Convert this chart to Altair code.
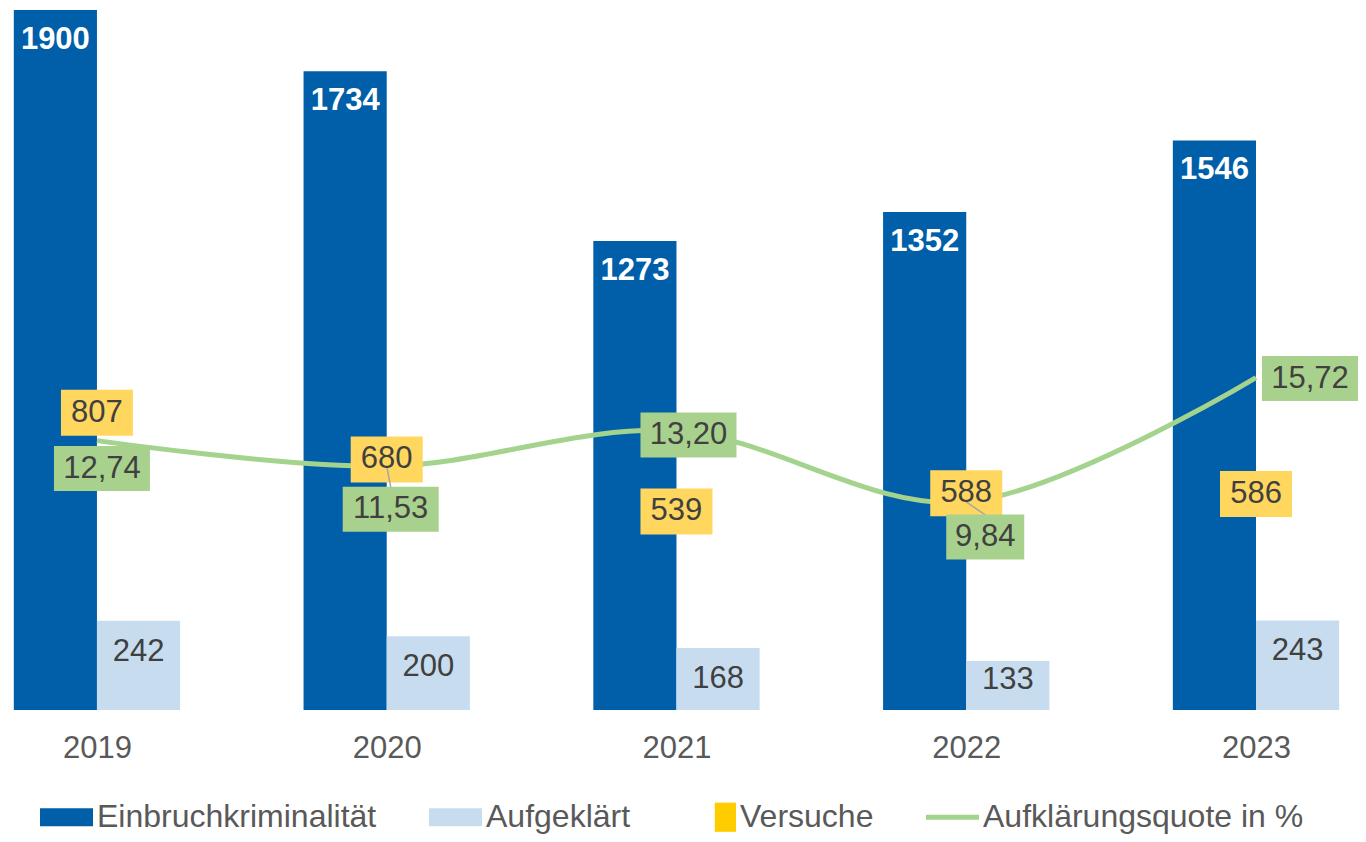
import altair as alt
import pandas as pd

# ---- data ----
years = [2019, 2020, 2021, 2022, 2023]
einbruch = [1900, 1734, 1273, 1352, 1546]
aufgeklaert = [242, 200, 168, 133, 243]
versuche = [807, 680, 539, 588, 586]
quote = [12.74, 11.53, 13.20, 9.84, 15.72]
quote_text = ["12,74", "11,53", "13,20", "9,84", "15,72"]
series = ["Einbruchkriminalität", "Aufgeklärt", "Versuche", "Aufklärungsquote in %"]

# ---- styling ----
FONT = "Liberation Sans"
FS = 31
LFS = 32
DARK = "#005FA8"
LIGHT = "#C7DDEF"
YELLOW_BOX = "#FFD75E"
GREEN_BOX = "#A9D18E"
GREEN_LINE = "#A3D38D"
TXT = "#404040"
W, H = 1350, 702
XDOM = [2018.693, 2023.352]
Y1MAX = 1905.4
Y2MAX = 33.2
BW = 0.287  # bar width in years
PX_PER_YEAR = W / (XDOM[1] - XDOM[0])
PX_PER_Q = H / Y2MAX

# pixel offsets for the manually placed quote labels (dx, dy)
quote_offsets = [(5, 28), (4, 43), (12, 4), (19, 35), (54, 1)]
leader = [False, True, False, True, False]

df = pd.DataFrame({
    "year": years,
    "einbruch": einbruch,
    "aufgeklaert": aufgeklaert,
    "versuche": versuche,
    "quote": quote,
    "qtext": quote_text,
})

xscale = alt.Scale(domain=XDOM, nice=False, zero=False)
yscale = alt.Scale(domain=[0, Y1MAX], nice=False, zero=True)
y2scale = alt.Scale(domain=[0, Y2MAX], nice=False, zero=True)
xaxis = alt.Axis(values=years, format="d", domain=False, ticks=False, grid=False,
                 labelFont=FONT, labelFontSize=FS, labelColor="#595959",
                 labelPadding=23, title=None)


def X(field):
    return alt.X(field, type="quantitative", scale=xscale, axis=xaxis, title=None)


def Y(field, sc=yscale):
    return alt.Y(field, type="quantitative", scale=sc, axis=None, title=None)


def box_path(w, h):
    m = max(w, h)
    a, b = w / m, h / m
    return f"M{-a},{-b}L{a},{-b}L{a},{b}L{-a},{b}Z", m * m


base = alt.Chart(df).transform_calculate(
    x0=f"datum.year - {BW}",
    x1=f"datum.year + {BW}",
    xd=f"datum.year - {BW / 2}",
    xl=f"datum.year + {BW / 2}",
    yl="max(datum.aufgeklaert - 84, 81.5)",
)

bars_dark = base.mark_bar(color=DARK).encode(
    x=X("x0"), x2="year:Q", y=Y("einbruch"), y2=alt.datum(0))
bars_light = base.mark_bar(color=LIGHT).encode(
    x=X("year"), x2="x1:Q", y=Y("aufgeklaert"), y2=alt.datum(0))

lab_dark = base.mark_text(font=FONT, fontSize=FS, fontWeight="bold", color="white",
                          baseline="middle", dy=30).encode(
    x=X("xd"), y=Y("einbruch"), text=alt.Text("einbruch:Q", format="d"))
lab_light = base.mark_text(font=FONT, fontSize=FS, color=TXT, baseline="middle").encode(
    x=X("xl"), y=Y("yl"), text=alt.Text("aufgeklaert:Q", format="d"))

line = base.mark_line(color=GREEN_LINE, strokeWidth=5, interpolate="cardinal").encode(
    x=X("year"), y=Y("quote", y2scale))

ypath, ysize = box_path(72, 46)
v_box = base.mark_point(shape=ypath, size=ysize, filled=True, color=YELLOW_BOX,
                        opacity=1, strokeWidth=0).encode(x=X("year"), y=Y("versuche"))
v_txt = base.mark_text(font=FONT, fontSize=FS, color=TXT, baseline="middle").encode(
    x=X("year"), y=Y("versuche"), text=alt.Text("versuche:Q", format="d"))

layers = [bars_dark, bars_light, lab_dark, lab_light, line, v_box]

# leader lines from the data point to the displaced label boxes
for yr, (dx, dy), has in zip(years, quote_offsets, leader):
    if not has:
        continue
    sub = base.transform_filter(f"datum.year == {yr}").transform_calculate(
        lx=f"datum.year + {dx / PX_PER_YEAR}",
        ly=f"datum.quote - {(dy - 22) / PX_PER_Q}",
    )
    layers.append(sub.mark_rule(color="#A6A6A6", strokeWidth=1.5).encode(
        x=X("year"), x2="lx:Q", y=Y("quote", y2scale), y2="ly:Q"))

layers.append(v_txt)

for yr, txt, (dx, dy) in zip(years, quote_text, quote_offsets):
    w = 96 if len(txt) >= 5 else 78
    gpath, gsize = box_path(w, 45)
    sub = base.transform_filter(f"datum.year == {yr}")
    layers.append(sub.mark_point(shape=gpath, size=gsize, filled=True, color=GREEN_BOX,
                                 opacity=1, strokeWidth=0, xOffset=dx, yOffset=dy).encode(
        x=X("year"), y=Y("quote", y2scale)))
    layers.append(sub.mark_text(font=FONT, fontSize=FS, color=TXT, baseline="middle",
                                dx=dx, dy=dy).encode(
        x=X("year"), y=Y("quote", y2scale), text="qtext:N"))

# legend (invisible points carry the legend)
legend_df = pd.DataFrame({"series": series, "year": [2021] * 4, "v": [0] * 4})
legend_colors = [DARK, LIGHT, "#FFCC00", GREEN_LINE]
legend_shapes = [
    "M-1,-0.34L1,-0.34L1,0.34L-1,0.34Z",
    "M-1,-0.34L1,-0.34L1,0.34L-1,0.34Z",
    "M0.2,-0.55L1,-0.55L1,0.55L0.2,0.55Z",
    "M-1,-0.09L1,-0.09L1,0.09L-1,0.09Z",
]
leg = alt.Legend(orient="none", legendX=32, legendY=782.5, direction="horizontal",
                 columns=4, columnPadding=52, title=None, labelFont=FONT,
                 labelFontSize=LFS, labelColor="#595959", symbolSize=2809,
                 symbolOpacity=1, symbolStrokeWidth=0, labelOffset=4, padding=0,
                 labelLimit=600)
legend_layer = alt.Chart(legend_df).mark_point(filled=True, opacity=0).encode(
    x=X("year"), y=Y("v"),
    color=alt.Color("series:N", scale=alt.Scale(domain=series, range=legend_colors),
                    legend=leg),
    shape=alt.Shape("series:N", scale=alt.Scale(domain=series, range=legend_shapes),
                    legend=leg),
)
layers.append(legend_layer)

chart = alt.layer(*layers).resolve_scale(y="independent").properties(
    width=W, height=H,
    padding={"left": 0, "top": 0, "right": 0, "bottom": 124},
    autosize=alt.AutoSizeParams(type="none"),
).configure_view(stroke=None)

chart.save("out.html", embed_options={"renderer": "svg", "actions": False})
